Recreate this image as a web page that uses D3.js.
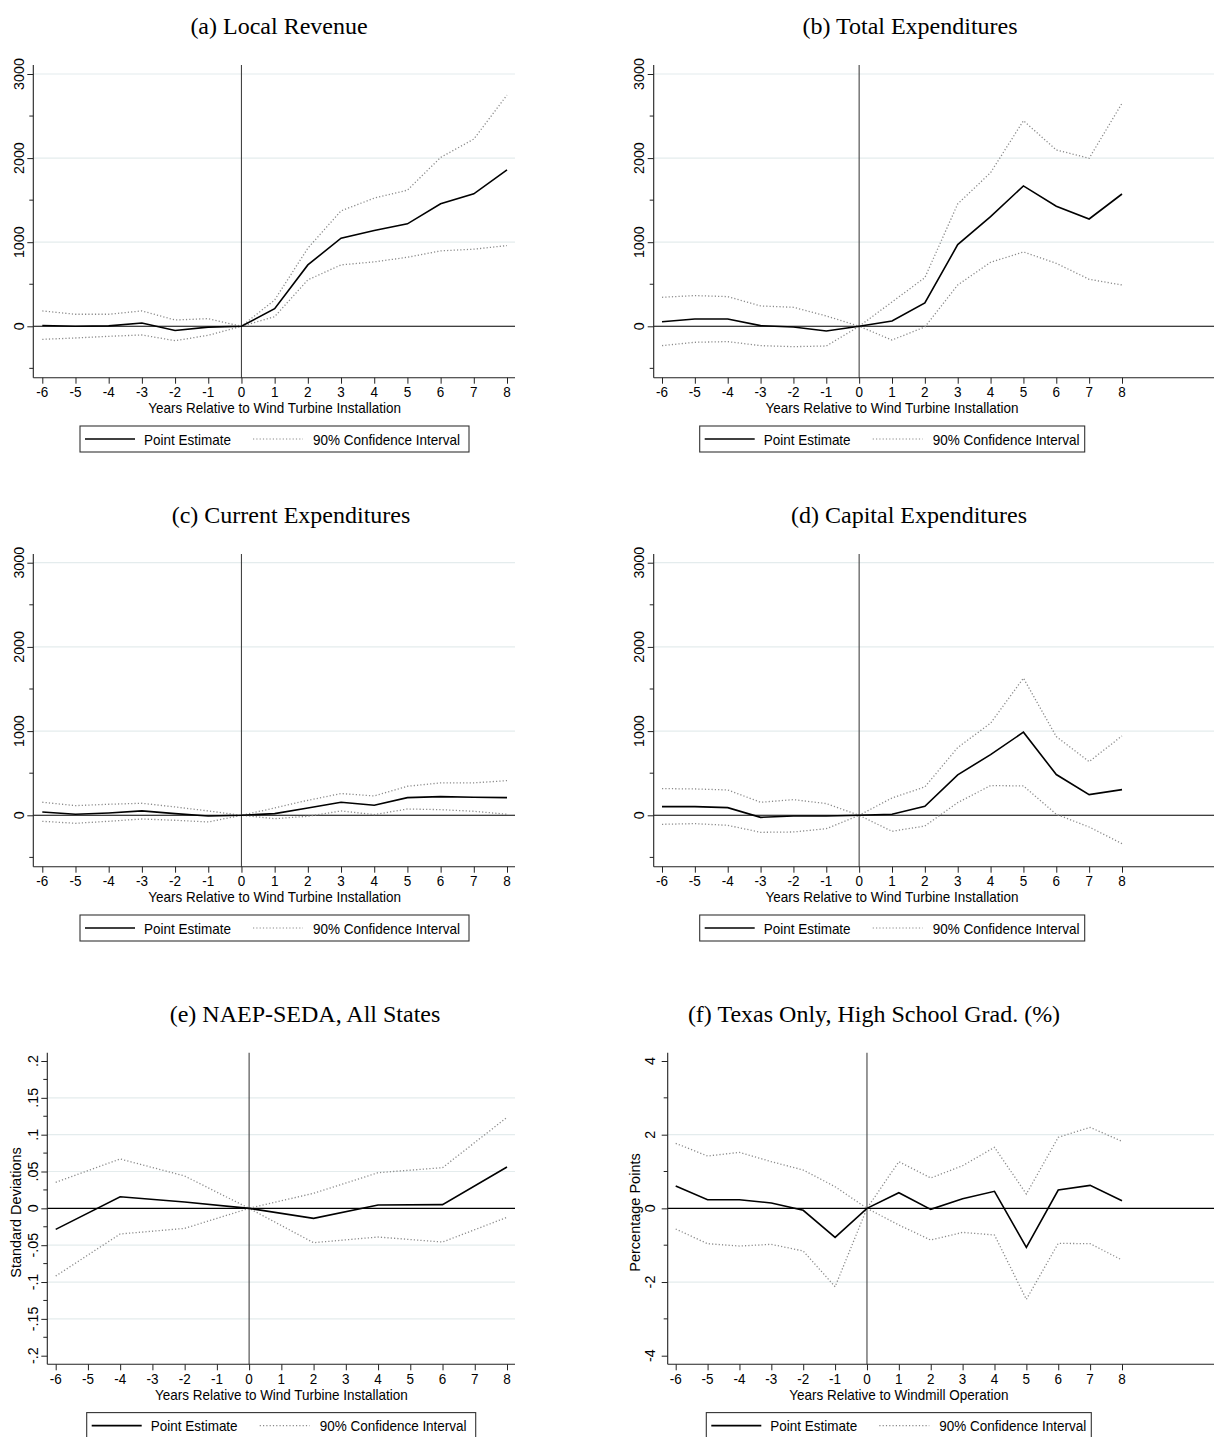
<!DOCTYPE html>
<html>
<head>
<meta charset="utf-8">
<script src="https://cdn.jsdelivr.net/npm/d3@7"></script>
<style>
  html, body { margin: 0; padding: 0; background: #fff; }
  svg { display: block; }
  .tick-label { font-family: "Liberation Sans", Arial, sans-serif; font-size: 15px; fill: #000; }
  .ytick-label { font-family: "Liberation Sans", Arial, sans-serif; font-size: 14.3px; fill: #000; }
  .axis-title { font-family: "Liberation Sans", Arial, sans-serif; font-size: 15px; fill: #000; }
  .yaxis-title { font-family: "Liberation Sans", Arial, sans-serif; font-size: 14.5px; fill: #000; }
  .panel-title { font-family: "Liberation Serif", "DejaVu Serif", serif; font-size: 24px; fill: #000; }
  .legend-text { font-family: "Liberation Sans", Arial, sans-serif; font-size: 15px; fill: #000; }
</style>
</head>
<body>
<svg id="chart" width="1214" height="1437"></svg>
<script>
// ---------------- DATA ----------------
const years = [-6, -5, -4, -3, -2, -1, 0, 1, 2, 3, 4, 5, 6, 7, 8];
const yearsNAEP = [-6, -4, -2, 0, 2, 4, 6, 8];
const xTickLabels = ["-6", "-5", "-4", "-3", "-2", "-1", "0", "1", "2", "3", "4", "5", "6", "7", "8"];

// (a) Local Revenue
const revEst   = [10, 0, 5, 40, -50, -10, 0, 210, 730, 1048, 1140, 1218, 1456, 1575, 1861];
const revUpper = [183, 143, 143, 183, 75, 91, 0, 313, 929, 1373, 1524, 1619, 2008, 2226, 2750];
const revLower = [-155, -139, -119, -103, -171, -107, 0, 115, 552, 730, 766, 821, 897, 917, 960];

// (b) Total Expenditures
const totEst   = [55, 87, 87, 8, -8, -55, 0, 63, 277, 971, 1304, 1669, 1427, 1276, 1573];
const totUpper = [345, 365, 353, 242, 226, 123, 0, 289, 579, 1455, 1827, 2445, 2097, 1998, 2652];
const totLower = [-230, -190, -182, -230, -242, -234, 0, -163, -8, 491, 761, 884, 749, 559, 491];

// (c) Current Expenditures
const curEst   = [40, 12, 28, 52, 20, -8, 0, 20, 87, 155, 119, 210, 222, 214, 210];
const curUpper = [155, 115, 131, 143, 99, 52, 0, 87, 178, 258, 230, 345, 385, 385, 412];
const curLower = [-71, -95, -71, -44, -59, -79, 0, -40, -12, 52, 8, 75, 67, 48, 12];

// (d) Capital Expenditures
const capEst   = [103, 103, 91, -24, -8, -8, 0, 12, 107, 480, 721, 987, 484, 246, 305];
const capUpper = [317, 313, 301, 155, 186, 139, 0, 206, 337, 805, 1094, 1629, 935, 638, 943];
const capLower = [-107, -99, -119, -202, -198, -159, 0, -190, -127, 151, 353, 349, 12, -139, -337];

// (e) NAEP-SEDA, All States (biennial)
const naepEst   = [-0.0285, 0.0158, 0.0086, 0, -0.0136, 0.0045, 0.005, 0.0561];
const naepUpper = [0.0353, 0.067, 0.0439, 0, 0.0204, 0.0484, 0.0552, 0.1235];
const naepLower = [-0.0919, -0.0348, -0.0272, 0, -0.0466, -0.0389, -0.0457, -0.0122];

// (f) Texas Only, High School Grad. (%)
const txEst   = [0.606, 0.235, 0.235, 0.145, -0.054, -0.787, 0, 0.425, -0.027, 0.262, 0.462, -1.059, 0.498, 0.624, 0.208];
const txUpper = [1.765, 1.421, 1.52, 1.267, 1.041, 0.588, 0, 1.267, 0.824, 1.158, 1.656, 0.389, 1.928, 2.199, 1.819];
const txLower = [-0.561, -0.959, -1.023, -0.977, -1.158, -2.127, 0, -0.452, -0.86, -0.652, -0.724, -2.471, -0.95, -0.959, -1.403];

// Y tick sets
const moneyTicks = [0, 1000, 2000, 3000];
const moneyTickLabels = ["0", "1000", "2000", "3000"];
const moneyMinor = [-500, 500, 1500, 2500];
const moneyGrid = [1000, 2000, 3000];

const sdTicks = [-0.2, -0.15, -0.1, -0.05, 0, 0.05, 0.1, 0.15, 0.2];
const sdTickLabels = ["-.2", "-.15", "-.1", "-.05", "0", ".05", ".1", ".15", ".2"];
const sdMinor = [-0.175, -0.125, -0.075, -0.025, 0.025, 0.075, 0.125, 0.175];
const sdGrid = [-0.15, -0.1, -0.05, 0.05, 0.1, 0.15];

const ppTicks = [-4, -2, 0, 2, 4];
const ppTickLabels = ["-4", "-2", "0", "2", "4"];
const ppMinor = [-3, -1, 1, 3];
const ppGrid = [-2, 2];

const titles = ["(a) Local Revenue", "(b) Total Expenditures", "(c) Current Expenditures",
                "(d) Capital Expenditures", "(e) NAEP-SEDA, All States", "(f) Texas Only, High School Grad. (%)"];
const xTitles = ["Years Relative to Wind Turbine Installation", "Years Relative to Wind Turbine Installation",
                 "Years Relative to Wind Turbine Installation", "Years Relative to Wind Turbine Installation",
                 "Years Relative to Wind Turbine Installation", "Years Relative to Windmill Operation"];
const yTitles = ["", "", "", "", "Standard Deviations", "Percentage Points"];
const legendLabels = ["Point Estimate", "90% Confidence Interval"];

// ---------------- LAYOUT ----------------
const panels = [
  { title: titles[0], titleX: 279, titleY: 34, axisX: 33.3, right: 515, top: 65, bottom: 377.7,
    xr: [42.3, 507], yd: [0, 3000], yr: [326.3, 74], yLabelX: 19, yTitleX: null,
    xs: years, est: revEst, up: revUpper, lo: revLower,
    ticks: moneyTicks, tickLabels: moneyTickLabels, minor: moneyMinor, grid: moneyGrid,
    xTitle: xTitles[0], yTitle: yTitles[0], legX: 80, legW: 389 },
  { title: titles[1], titleX: 910, titleY: 34, axisX: 653.7, right: 1214, top: 65, bottom: 377.7,
    xr: [662, 1122], yd: [0, 3000], yr: [326.3, 74], yLabelX: 638.5, yTitleX: null,
    xs: years, est: totEst, up: totUpper, lo: totLower,
    ticks: moneyTicks, tickLabels: moneyTickLabels, minor: moneyMinor, grid: moneyGrid,
    xTitle: xTitles[1], yTitle: yTitles[1], legX: 699.7, legW: 385 },
  { title: titles[2], titleX: 291, titleY: 523, axisX: 33.3, right: 515, top: 554, bottom: 866.7,
    xr: [42.3, 507], yd: [0, 3000], yr: [815.3, 562.7], yLabelX: 19, yTitleX: null,
    xs: years, est: curEst, up: curUpper, lo: curLower,
    ticks: moneyTicks, tickLabels: moneyTickLabels, minor: moneyMinor, grid: moneyGrid,
    xTitle: xTitles[2], yTitle: yTitles[2], legX: 80, legW: 389 },
  { title: titles[3], titleX: 909, titleY: 523, axisX: 653.7, right: 1214, top: 554, bottom: 866.7,
    xr: [662, 1122], yd: [0, 3000], yr: [815.3, 562.7], yLabelX: 638.5, yTitleX: null,
    xs: years, est: capEst, up: capUpper, lo: capLower,
    ticks: moneyTicks, tickLabels: moneyTickLabels, minor: moneyMinor, grid: moneyGrid,
    xTitle: xTitles[3], yTitle: yTitles[3], legX: 699.7, legW: 385 },
  { title: titles[4], titleX: 305, titleY: 1021.5, axisX: 47.3, right: 515, top: 1052.7, bottom: 1364.3,
    xr: [55.7, 507], yd: [-0.2, 0.2], yr: [1355.7, 1061], yLabelX: 33, yTitleX: 15.5,
    xs: yearsNAEP, est: naepEst, up: naepUpper, lo: naepLower,
    ticks: sdTicks, tickLabels: sdTickLabels, minor: sdMinor, grid: sdGrid,
    xTitle: xTitles[4], yTitle: yTitles[4], legX: 86.7, legW: 389 },
  { title: titles[5], titleX: 874, titleY: 1021.5, axisX: 667.7, right: 1214, top: 1052.7, bottom: 1364.3,
    xr: [675.7, 1122], yd: [-4, 4], yr: [1355.7, 1061], yLabelX: 650, yTitleX: 635,
    xs: years, est: txEst, up: txUpper, lo: txLower,
    ticks: ppTicks, tickLabels: ppTickLabels, minor: ppMinor, grid: ppGrid,
    xTitle: xTitles[5], yTitle: yTitles[5], legX: 706.3, legW: 385 }
];

const svg = d3.select("#chart");
const COL_GRID = "#e4eced";
const COL_AXIS = "#222";
const COL_CI = "#8a8a8a";
const SQUEEZE = 0.9; // horizontal compression of the reference's sans text

function hText(g, x, y, str, cls, anchor) {
  return g.append("text").attr("class", cls)
    .attr("transform", `translate(${x},${y}) scale(${SQUEEZE},1)`)
    .attr("text-anchor", anchor || "start").text(str);
}

panels.forEach(p => {
  const g = svg.append("g");
  const x = d3.scaleLinear().domain([-6, 8]).range(p.xr);
  const y = d3.scaleLinear().domain(p.yd).range(p.yr);

  // Title
  g.append("text").attr("class", "panel-title")
    .attr("x", p.titleX).attr("y", p.titleY).attr("text-anchor", "middle").text(p.title);

  // Gridlines
  g.selectAll(".grid").data(p.grid).enter().append("line")
    .attr("x1", p.axisX).attr("x2", p.right)
    .attr("y1", d => y(d)).attr("y2", d => y(d))
    .attr("stroke", COL_GRID).attr("stroke-width", 1.2);

  // Zero horizontal line
  g.append("line").attr("x1", p.axisX).attr("x2", p.right)
    .attr("y1", y(0)).attr("y2", y(0)).attr("stroke", "#000").attr("stroke-width", 1.1);

  // Vertical line at year 0
  g.append("line").attr("x1", x(0)).attr("x2", x(0))
    .attr("y1", p.top).attr("y2", p.bottom).attr("stroke", "#444").attr("stroke-width", 1.1);

  // Y axis via d3.axisLeft (major ticks)
  const yAxis = d3.axisLeft(y).tickValues(p.ticks)
    .tickFormat((d, i) => p.tickLabels[i]).tickSize(6).tickSizeOuter(0);
  const ya = g.append("g").attr("transform", `translate(${p.axisX},0)`).call(yAxis);
  ya.select(".domain").remove();
  ya.selectAll(".tick line").attr("stroke", COL_AXIS);
  ya.selectAll(".tick text").remove();
  g.selectAll(".ylab").data(p.ticks).enter().append("text")
    .attr("class", "ytick-label")
    .attr("transform", (d) => `translate(${p.yLabelX},${y(d)}) rotate(-90)`)
    .attr("text-anchor", "middle").attr("dominant-baseline", "central")
    .text((d, i) => p.tickLabels[i]);
  g.selectAll(".ymin").data(p.minor).enter().append("line")
    .attr("x1", p.axisX - 4).attr("x2", p.axisX)
    .attr("y1", d => y(d)).attr("y2", d => y(d)).attr("stroke", COL_AXIS);
  g.append("line").attr("x1", p.axisX).attr("x2", p.axisX)
    .attr("y1", p.top).attr("y2", p.bottom).attr("stroke", COL_AXIS).attr("stroke-width", 1.1);

  // X axis
  const xAxis = d3.axisBottom(x).tickValues(years)
    .tickFormat((d, i) => xTickLabels[i]).tickSize(6).tickSizeOuter(0);
  const xa = g.append("g").attr("transform", `translate(0,${p.bottom})`).call(xAxis);
  xa.select(".domain").remove();
  xa.selectAll(".tick line").attr("stroke", COL_AXIS);
  xa.selectAll(".tick text").remove();
  years.forEach((v, i) => hText(g, x(v), p.bottom + 19.5, xTickLabels[i], "tick-label", "middle"));
  g.append("line").attr("x1", p.axisX).attr("x2", p.right)
    .attr("y1", p.bottom).attr("y2", p.bottom).attr("stroke", COL_AXIS).attr("stroke-width", 1.1);

  // X title
  hText(g, (p.xr[0] + p.xr[1]) / 2, p.bottom + 35.5, p.xTitle, "axis-title", "middle");

  // Y title
  if (p.yTitle) {
    g.append("text").attr("class", "yaxis-title")
      .attr("transform", `translate(${p.yTitleX},${(p.top + p.bottom) / 2 + 4}) rotate(-90)`)
      .attr("text-anchor", "middle").attr("dominant-baseline", "central").text(p.yTitle);
  }

  // Lines
  const line = d3.line().x((d, i) => x(p.xs[i])).y(d => y(d));
  g.append("path").datum(p.up).attr("d", line).attr("fill", "none")
    .attr("stroke", COL_CI).attr("stroke-width", 1.3).attr("stroke-dasharray", "1.2,2.1");
  g.append("path").datum(p.lo).attr("d", line).attr("fill", "none")
    .attr("stroke", COL_CI).attr("stroke-width", 1.3).attr("stroke-dasharray", "1.2,2.1");
  g.append("path").datum(p.est).attr("d", line).attr("fill", "none")
    .attr("stroke", "#000").attr("stroke-width", 1.6).attr("stroke-linejoin", "miter");

  // Legend
  const ly = p.bottom + 48.3;
  const lg = g.append("g").attr("transform", `translate(${p.legX},${ly})`);
  lg.append("rect").attr("x", 0).attr("y", 0).attr("width", p.legW).attr("height", 26)
    .attr("fill", "#fff").attr("stroke", "#333").attr("stroke-width", 1.1);
  lg.append("line").attr("x1", 5).attr("x2", 55).attr("y1", 13).attr("y2", 13)
    .attr("stroke", "#000").attr("stroke-width", 1.6);
  hText(lg, 64, 18.5, legendLabels[0], "legend-text", "start");
  lg.append("line").attr("x1", 173).attr("x2", 223).attr("y1", 13).attr("y2", 13)
    .attr("stroke", COL_CI).attr("stroke-width", 1.2).attr("stroke-dasharray", "1.2,2.1");
  hText(lg, 233, 18.5, legendLabels[1], "legend-text", "start");
});
</script>
</body>
</html>
